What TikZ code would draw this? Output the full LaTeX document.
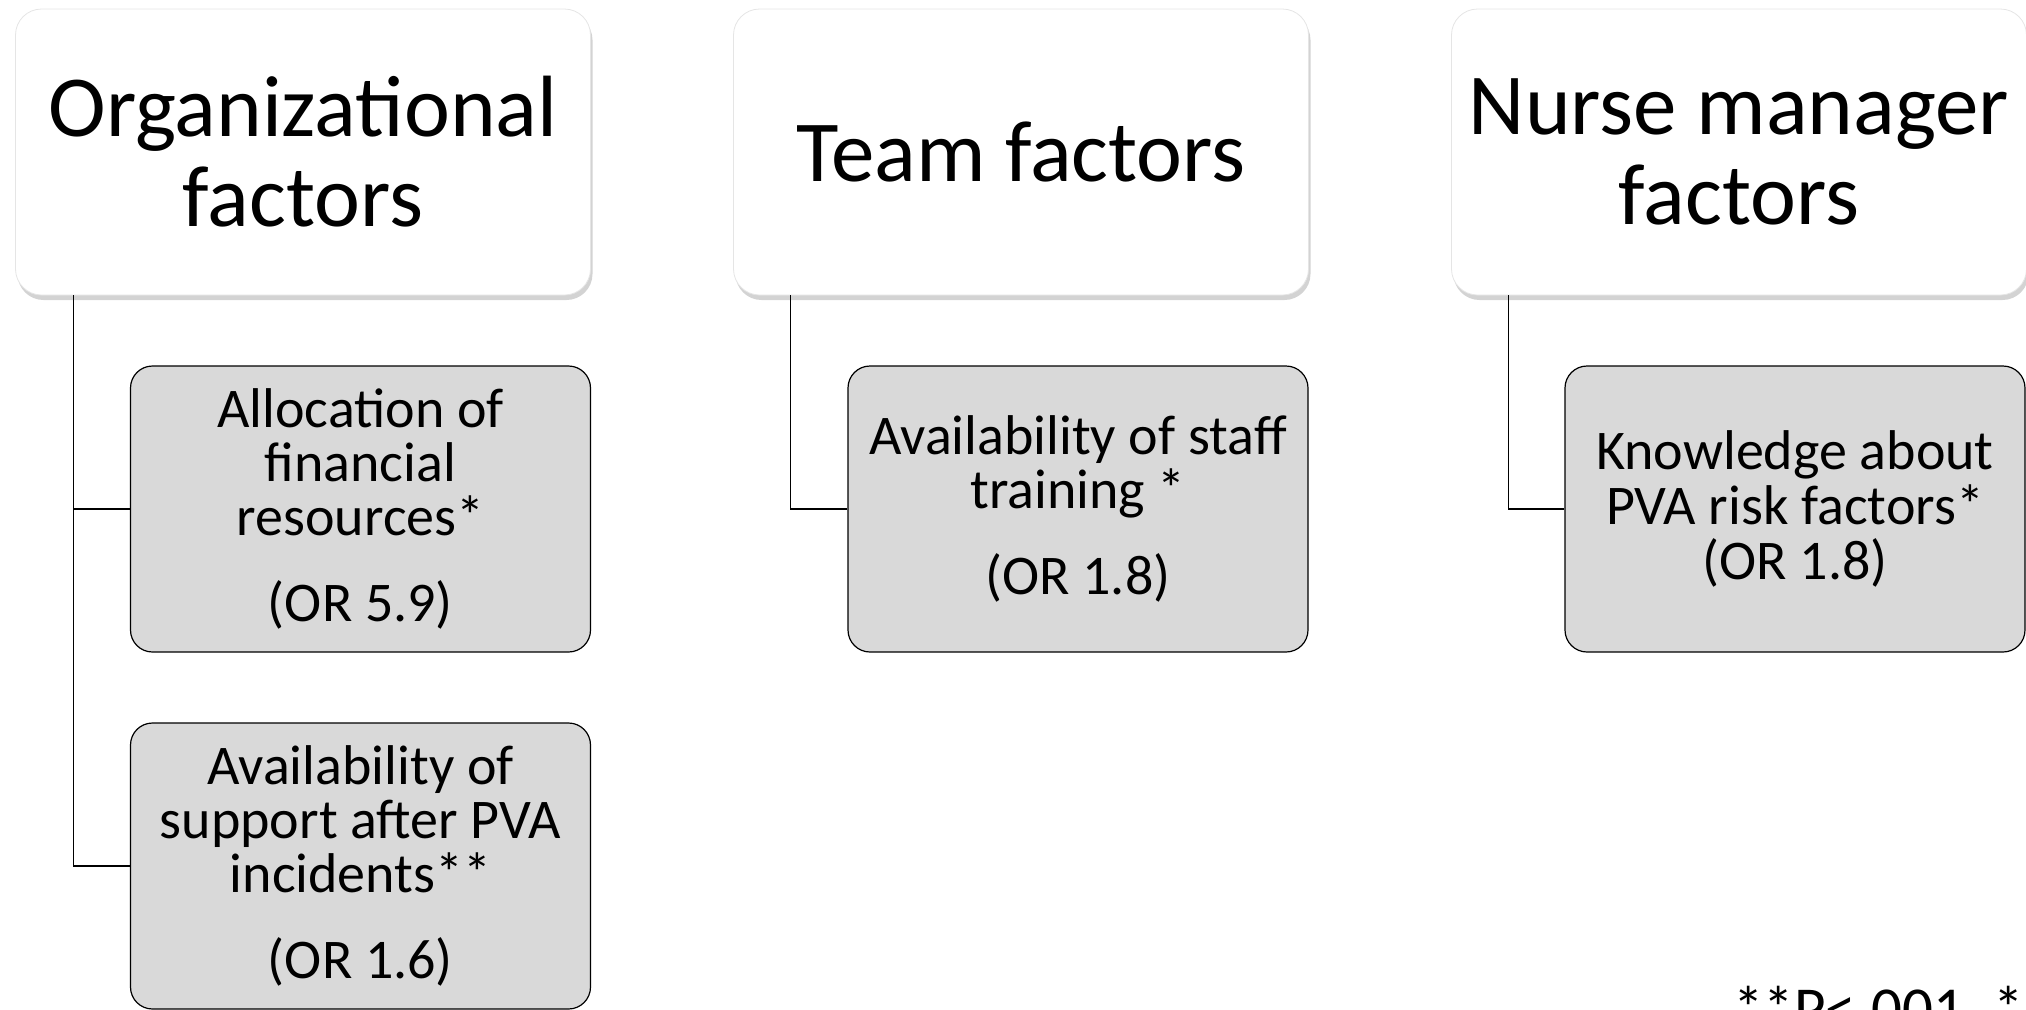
\documentclass[tikz,border=0pt]{standalone}
\usepackage{fontspec}
\setmainfont{Carlito}
\usetikzlibrary{shadows}
\begin{document}
\begin{tikzpicture}[x=0.5pt,y=-0.5pt,
  factor/.style={rounded corners=13pt,fill=white,draw=black!10,
    drop shadow={shadow xshift=1pt,shadow yshift=-2.5pt,opacity=0.35},
    minimum width=287.5pt,minimum height=143pt,inner sep=0pt,
    align=center,font=\fontsize{43.5}{45}\selectfont},
  item/.style={rounded corners=11pt,fill=black!15,draw=black,line width=0.6pt,
    minimum width=230pt,minimum height=143pt,inner sep=0pt,
    align=center,font=\fontsize{28}{27}\selectfont},
  link/.style={draw=black,line width=0.6pt}]
\useasboundingbox (0,0) rectangle (2026,1009);
\clip (0,0) rectangle (2026,1009);
% top row
\node[factor] (org) at (303,152) {Organizational\\factors};
\node[factor] (team) at (1021,152) {Team factors};
\node[factor] (nurse) at (1739,152) {Nurse manager\\factors};
% items
\node[item] (alloc) at (360.5,509) {Allocation of\\financial\\resources*\\[16pt](OR 5.9)};
\node[item] (support) at (360.5,866) {Availability of\\support after PVA\\incidents**\\[16pt](OR 1.6)};
\node[item] (training) at (1078,509) {Availability of staff\\training *\\[16pt](OR 1.8)};
\node[item,font=\fontsize{28}{27.5}\selectfont] (knowledge) at (1795,509) {Knowledge about\\PVA risk factors*\\(OR 1.8)};
% links
\draw[link] ([xshift=29pt]org.south west) |- (alloc.west);
\draw[link] ([xshift=29pt]org.south west) |- (support.west);
\draw[link] ([xshift=28.5pt]team.south west) |- (training.west);
\draw[link] ([xshift=28.5pt]nurse.south west) |- (knowledge.west);
% footnote
\node[anchor=base west,inner sep=0pt,font=\fontsize{30.5}{30}\selectfont] (note) at (1733,1029) {**P<.001, *P<.05};
\end{tikzpicture}
\end{document}
